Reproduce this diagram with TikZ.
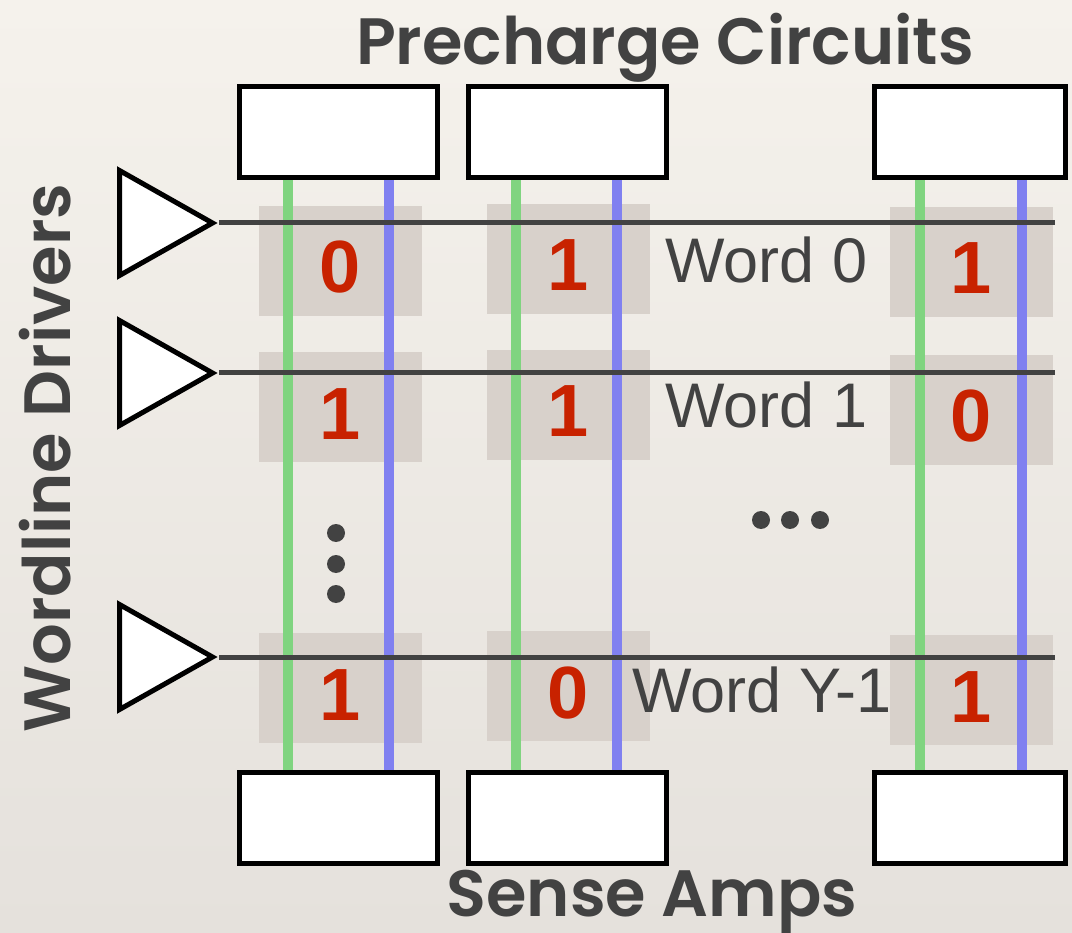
\documentclass[tikz,border=0pt]{standalone}
\usepackage{fontspec}
\setmainfont{Liberation Sans}
\newfontfamily\headfont{Poppins}[BoldFont={Poppins SemiBold}]
\usepackage{tikz}
\usetikzlibrary{shapes.geometric}
\definecolor{bgtop}{HTML}{F5F2EC}
\definecolor{bgbot}{HTML}{E5E1DC}
\definecolor{cellgray}{HTML}{D8D1CB}
\definecolor{bitred}{HTML}{C82200}
\definecolor{blgreen}{HTML}{80D480}
\definecolor{blblue}{HTML}{8080F0}
\definecolor{inkgray}{HTML}{424242}

\begin{document}
\begin{tikzpicture}[x=1pt, y=-1pt]
  % SRAM array sketch
  \tikzstyle{periph} = [rectangle, draw=black, fill=white, line width=5pt, minimum width=198pt, minimum height=91pt, inner sep=0pt]
  \tikzstyle{cell} = [rectangle, fill=cellgray, minimum width=163pt, minimum height=110pt, inner sep=0pt, text=bitred, font=\fontsize{74}{74}\selectfont\bfseries, text height=64pt, text depth=0pt]
  \tikzstyle{driver} = [isosceles triangle, isosceles triangle stretches, draw=black, fill=white, line width=5pt, minimum width=105pt, minimum height=93pt, inner sep=0pt, anchor=west]
  \tikzstyle{wordline} = [line width=5pt, color=inkgray]
  \tikzstyle{blg} = [line width=10pt, color=blgreen]
  \tikzstyle{blb} = [line width=10pt, color=blblue]
  \tikzstyle{wordlabel} = [font=\fontsize{63}{63}\selectfont, text=inkgray, anchor=base west, inner sep=0pt]
  \tikzstyle{heading} = [font=\headfont\fontsize{65.5}{65.5}\selectfont\bfseries, text=inkgray, inner sep=0pt, anchor=base]

  % Background
  \useasboundingbox (0,0) rectangle (1072,933);
  \shade[top color=bgtop, bottom color=bgbot] (0,0) rectangle (1072,933);

  % Bit cells
  \node[cell] (c00) at (340.5, 261) {0};
  \node[cell] (c01) at (568, 259) {1};
  \node[cell] (c02) at (971, 262) {1};
  \node[cell] (c10) at (340.5, 407) {1};
  \node[cell] (c11) at (568, 405) {1};
  \node[cell] (c12) at (971, 410) {0};
  \node[cell] (c20) at (340.5, 688) {1};
  \node[cell] (c21) at (568, 686) {0};
  \node[cell] (c22) at (971, 690) {1};

  % Precharge circuits and sense amps
  \node[periph] (pc1) at (338.5, 132.5) {};
  \node[periph] (pc2) at (567, 132.5) {};
  \node[periph, minimum width=191pt] (pc3) at (970, 132.5) {};
  \node[periph] (sa1) at (338.5, 818) {};
  \node[periph] (sa2) at (567, 818) {};
  \node[periph, minimum width=191pt] (sa3) at (970, 818) {};

  % Bitlines
  \draw[blg] ([xshift=-51pt]pc1.south) -- ([xshift=-51pt]sa1.north);
  \draw[blb] ([xshift=50pt]pc1.south) -- ([xshift=50pt]sa1.north);
  \draw[blg] ([xshift=-51pt]pc2.south) -- ([xshift=-51pt]sa2.north);
  \draw[blb] ([xshift=50pt]pc2.south) -- ([xshift=50pt]sa2.north);
  \draw[blg] ([xshift=-50pt]pc3.south) -- ([xshift=-50pt]sa3.north);
  \draw[blb] ([xshift=52pt]pc3.south) -- ([xshift=52pt]sa3.north);

  % Wordline drivers
  \node[driver] (drv0) at (117, 223) {};
  \node[driver] (drv1) at (117, 373) {};
  \node[driver] (drv2) at (117, 657) {};
  \coordinate (wl0) at (1055, 223);
  \coordinate (wl1) at (1055, 373);
  \coordinate (wl2) at (1055, 657);
  \draw[wordline] (drv0.apex) -- (wl0);
  \draw[wordline] (drv1.apex) -- (wl1);
  \draw[wordline] (drv2.apex) -- (wl2);

  % Word labels
  \node[wordlabel] (w0) at (665, 283) {Word 0};
  \node[wordlabel] (w1) at (665, 428) {Word 1};
  \node[wordlabel] (w2) at (632, 712) {Word Y-1};

  % Ellipses
  \foreach \y in {533, 564, 594} \fill[inkgray] (336, \y) circle (9pt);
  \foreach \x in {761, 790, 820} \fill[inkgray] (\x, 520) circle (9pt);

  % Titles
  \node[heading] (ttop) at (665, 65) {Precharge Circuits};
  \node[heading] (tbot) at (652, 916) {Sense Amps};
  \node[heading, rotate=90] (tleft) at (70, 458) {Wordline Drivers};

\end{tikzpicture}
\end{document}
